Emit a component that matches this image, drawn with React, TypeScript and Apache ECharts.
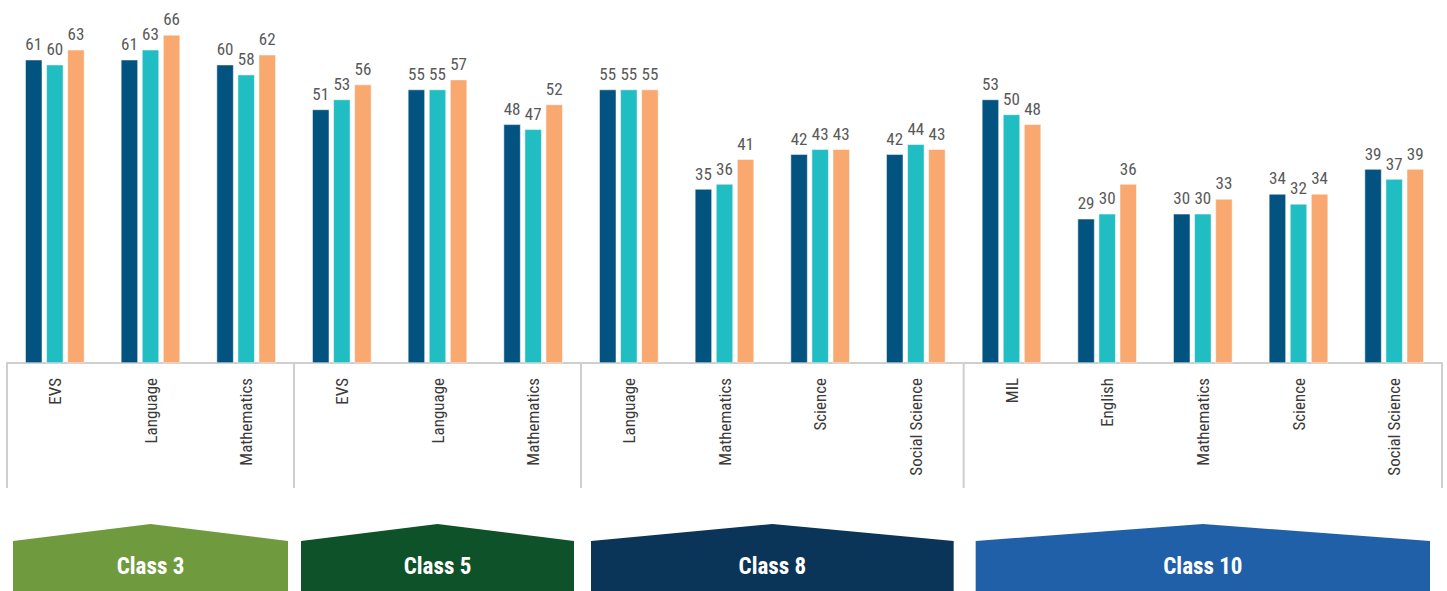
import React, { useEffect, useRef } from "react";
import * as echarts from "echarts";

const categories = [
  "EVS", "Language", "Mathematics",
  "EVS", "Language", "Mathematics",
  "Language", "Mathematics", "Science", "Social Science",
  "MIL", "English", "Mathematics", "Science", "Social Science",
];
const seriesA = [61, 61, 60, 51, 55, 48, 55, 35, 42, 42, 53, 29, 30, 34, 39];
const seriesB = [60, 63, 58, 53, 55, 47, 55, 36, 43, 44, 50, 30, 30, 32, 37];
const seriesC = [63, 66, 62, 56, 57, 52, 55, 41, 43, 43, 48, 36, 33, 34, 39];
const groupNames = ["Class 3", "Class 5", "Class 8", "Class 10"];
const groupSizes = [3, 3, 4, 5];
const groupColors = ["#6f9b3e", "#0e5229", "#0b3459", "#1f60a9"];
const seriesColors = ["#02537f", "#20bdc2", "#f9a86f"];

const FONT = "'Liberation Sans Narrow', 'Roboto Condensed', 'Arial Narrow', Roboto, sans-serif";

export default function App() {
  const ref = useRef<HTMLDivElement>(null);
  useEffect(() => {
    document.body.style.margin = "0";
    const chart = echarts.init(ref.current!, null, { renderer: "svg" });
    const mk = (data: number[], color: string) => ({
      type: "bar",
      data,
      barWidth: 17,
      barGap: "24%",
      itemStyle: { color, borderColor: "#ffffff", borderWidth: 0.5 },
      label: {
        show: true,
        position: "top",
        distance: 7,
        color: "#595959",
        fontSize: 17,
        fontFamily: FONT,
      },
    });
    chart.setOption({
      animation: false,
      grid: { left: 7, right: 5, top: 15, bottom: 228 },
      xAxis: {
        type: "category",
        data: categories,
        axisLine: { lineStyle: { color: "#cfcfcf", width: 2 } },
        axisTick: { show: false },
        axisLabel: {
          rotate: 90,
          interval: 0,
          margin: 15,
          color: "#3a3a3a",
          fontSize: 17,
          fontFamily: FONT,
        },
      },
      yAxis: {
        type: "value",
        min: 0,
        max: 70,
        show: false,
        splitLine: { show: false },
      },
      series: [mk(seriesA, seriesColors[0]), mk(seriesB, seriesColors[1]), mk(seriesC, seriesColors[2])],
    });

    const x0 = chart.convertToPixel({ xAxisIndex: 0 }, 0) as number;
    const x1 = chart.convertToPixel({ xAxisIndex: 0 }, 1) as number;
    const bw = x1 - x0;
    const axisY = chart.convertToPixel({ yAxisIndex: 0 }, 0) as number;
    const elements: any[] = [];
    let start = 0;
    const seps: number[] = [x0 - bw / 2];
    groupSizes.forEach((n) => {
      start += n;
      seps.push(x0 - bw / 2 + start * bw);
    });
    seps.forEach((sx) => {
      elements.push({
        type: "line",
        shape: { x1: sx, y1: axisY, x2: sx, y2: axisY + 125 },
        style: { stroke: "#cfcfcf", lineWidth: 2 },
      });
    });
    const insets = [6, 7, 10, 12];
    groupNames.forEach((name, i) => {
      const l = seps[i] + insets[i];
      const r = seps[i + 1] - insets[i];
      const c = (l + r) / 2;
      elements.push({
        type: "polygon",
        shape: {
          points: [
            [l, 541], [c, 524], [r, 541], [r, 595], [l, 595],
          ],
        },
        style: { fill: groupColors[i] },
      });
      elements.push({
        type: "text",
        x: c,
        y: 566,
        style: {
          text: name,
          fill: "#ffffff",
          font: `bold 23px ${FONT}`,
          align: "center",
          verticalAlign: "middle",
        },
      });
    });
    chart.setOption({ graphic: { elements } });
    return () => chart.dispose();
  }, []);
  return <div ref={ref} style={{ width: 1447, height: 591 }} />;
}
